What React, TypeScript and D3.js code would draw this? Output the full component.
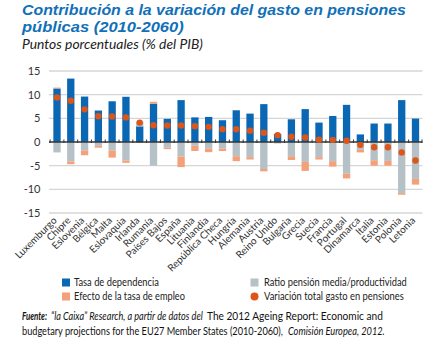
import React, { useLayoutEffect, useRef, useState } from "react";
import * as d3 from "d3";

const countries = [
  "Luxemburgo", "Chipre", "Eslovenia", "Bélgica", "Malta", "Eslovaquia", "Irlanda",
  "Rumanía", "Países Bajos", "España", "Lituania", "Finlandia", "República Checa",
  "Hungría", "Alemania", "Austria", "Reino Unido", "Bulgaria", "Grecia", "Suecia",
  "Francia", "Portugal", "Dinamarca", "Italia", "Estonia", "Polonia", "Letonia",
];
const dependencia = [11.3, 13.4, 9.6, 6.65, 8.6, 9.55, 3.3, 8.1, 4.9, 8.85, 5.2, 5.3, 4.6, 6.7, 6.0, 8.0, 1.7, 4.8, 6.95, 4.1, 5.5, 7.85, 1.6, 3.9, 3.9, 8.85, 4.95];
const ratio = [-2.2, -4.1, -1.8, -0.8, -1.8, -3.9, 1.0, -5.0, -1.2, -3.1, -0.8, -1.4, -1.4, -3.0, -3.2, -5.7, -0.2, -3.0, -4.2, -3.2, -4.05, -6.7, -1.65, -3.85, -4.0, -10.8, -7.8];
const empleo = [0.2, -0.6, -1.0, -0.4, -1.5, -0.5, -0.2, 0.4, -0.3, -2.2, -1.1, -0.75, -0.5, -1.05, -0.5, -0.5, -0.1, -0.8, -1.9, -0.5, -1.15, -1.0, -0.55, -1.15, -1.0, -0.35, -1.2];
const total = [9.4, 8.7, 6.9, 5.45, 5.4, 5.2, 4.1, 3.55, 3.5, 3.5, 3.35, 3.2, 2.7, 2.7, 2.4, 1.95, 1.45, 1.1, 0.95, 0.5, 0.45, 0.25, -0.6, -1.1, -1.1, -2.2, -3.9];
const yTicks = [15, 10, 5, 0, -5, -10, -15];

const seriesKeys = ["dependencia", "ratio", "empleo"];
const colors: Record<string, string> = {
  dependencia: "#0a67b3",
  ratio: "#b5c1c6",
  empleo: "#f4a078",
};
const dotColor = "#dd5518";
const font = "Lato, 'Open Sans', sans-serif";
const titleFont = "'Liberation Sans', Arial, sans-serif";

function FitText(props: {
  x: number; y: number; width: number; children: string;
  fontSize: number; fill: string; fontWeight?: string; fontStyle?: string; fontFamily?: string;
}) {
  const ref = useRef<SVGTextElement>(null);
  const [s, setS] = useState(1);
  useLayoutEffect(() => {
    if (ref.current) {
      const len = ref.current.getComputedTextLength();
      if (len > 0) setS(props.width / len);
    }
  }, [props.width, props.children]);
  return (
    <text ref={ref} transform={`translate(${props.x},${props.y}) scale(${s},1)`}
      fontSize={props.fontSize} fill={props.fill} fontWeight={props.fontWeight}
      fontStyle={props.fontStyle} fontFamily={props.fontFamily}>
      {props.children}
    </text>
  );
}

export default function App() {
  const rows = countries.map((c, i) => ({
    country: c,
    dependencia: dependencia[i],
    ratio: ratio[i],
    empleo: empleo[i],
  }));
  const stacked = d3
    .stack<any>()
    .keys(seriesKeys)
    .offset(d3.stackOffsetDiverging)(rows);

  const x = d3
    .scaleBand<string>()
    .domain(countries)
    .range([50.1, 422.4])
    .paddingInner(0.47)
    .paddingOuter(0.235);
  const y = d3.scaleLinear().domain([-15, 15]).range([213, 71]);
  const y0 = y(0);
  const step = x.step();

  return (
    <svg
      width={436}
      height={338}
      style={{ position: "absolute", left: 0, top: 0, background: "#fff" }}
      fontFamily={font}
    >
      {/* Title */}
      <FitText x={22} y={14.5} width={384} fill="#1170b8" fontWeight="bold" fontStyle="italic"
        fontSize={15.5} fontFamily={titleFont}>
        Contribución a la variación del gasto en pensiones
      </FitText>
      <FitText x={22} y={32} width={162} fill="#1170b8" fontWeight="bold" fontStyle="italic"
        fontSize={15.5} fontFamily={titleFont}>
        públicas (2010-2060)
      </FitText>
      <FitText x={22} y={49} width={181} fill="#222" fontStyle="italic" fontSize={12.5}>
        Puntos porcentuales (% del PIB)
      </FitText>

      {/* Grid */}
      {yTicks.filter((t) => t !== 0).map((t) => (
        <line key={t} x1={49} x2={422.4} y1={y(t)} y2={y(t)} stroke="#d6d6d6" strokeWidth={1.3} />
      ))}
      {yTicks.map((t) => (
        <text key={"l" + t} x={40.5} y={y(t)} dy="0.35em" textAnchor="end" fontSize={11} fill="#333">
          {t}
        </text>
      ))}

      {/* Bars */}
      {stacked.map((s) => (
        <g key={s.key} fill={colors[s.key]}>
          {s.map((d, i) => {
            const a = y(d[0]);
            const b = y(d[1]);
            const top = Math.min(a, b);
            const h = Math.abs(a - b);
            if (h < 0.01) return null;
            return (
              <rect key={i} x={x(countries[i])!} y={top} width={x.bandwidth()} height={h} />
            );
          })}
        </g>
      ))}

      {/* Zero axis */}
      <line x1={49} x2={422.4} y1={y0} y2={y0} stroke="#333" strokeWidth={1.4} />
      {countries.map((c, i) => (
        <line key={"t" + i} x1={x(c)! - (step - x.bandwidth()) / 2} x2={x(c)! - (step - x.bandwidth()) / 2}
          y1={y0 - 2.5} y2={y0 + 1} stroke="#333" strokeWidth={1} />
      ))}
      <line x1={422} x2={422} y1={y0 - 2.5} y2={y0 + 1} stroke="#333" strokeWidth={1} />

      {/* Dots */}
      {countries.map((c, i) => (
        <circle key={"d" + i} cx={x(c)! + x.bandwidth() / 2} cy={y(total[i])} r={3.2} fill={dotColor} />
      ))}

      {/* X labels */}
      {countries.map((c) => {
        const cx = x(c)! + x.bandwidth() / 2;
        return (
          <text key={"x" + c} transform={`translate(${cx + 0.5},${221}) rotate(-45)`} textAnchor="end"
            fontSize={10} fill="#333">
            {c}
          </text>
        );
      })}

      {/* Legend */}
      <rect x={62} y={278.5} width={8} height={8} fill={colors.dependencia} />
      <FitText x={74} y={286} width={85} fontSize={10.5} fill="#222">Tasa de dependencia</FitText>
      <rect x={62} y={292.5} width={8} height={8} fill={colors.empleo} />
      <FitText x={74} y={300.3} width={111} fontSize={10.5} fill="#222">Efecto de la tasa de empleo</FitText>
      <rect x={250.5} y={278.5} width={8} height={8} fill={colors.ratio} />
      <FitText x={264} y={286} width={143} fontSize={10.5} fill="#222">Ratio pensión media/productividad</FitText>
      <circle cx={254.5} cy={296.5} r={4} fill={dotColor} />
      <FitText x={264} y={300.3} width={140} fontSize={10.5} fill="#222">Variación total gasto en pensiones</FitText>

      {/* Footer */}
      <FitText x={22} y={320} width={25} fontSize={10.5} fill="#111" fontWeight="bold" fontStyle="italic">Fuente:</FitText>
      <FitText x={51} y={320} width={152} fontSize={10.5} fill="#111" fontStyle="italic">“la Caixa” Research, a partir de datos del</FitText>
      <FitText x={207} y={320} width={176} fontSize={10.5} fill="#111">The 2012 Ageing Report: Economic and</FitText>
      <FitText x={22} y={334.5} width={261} fontSize={10.5} fill="#111">budgetary projections for the EU27 Member States (2010-2060),</FitText>
      <FitText x={288} y={334.5} width={97} fontSize={10.5} fill="#111" fontStyle="italic">Comisión Europea, 2012.</FitText>
    </svg>
  );
}
